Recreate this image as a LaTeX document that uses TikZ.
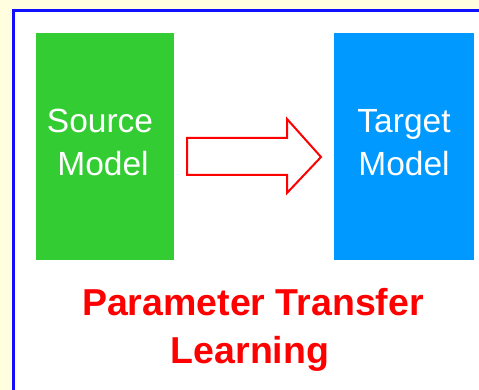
\documentclass[tikz,border=0pt]{standalone}
\usepackage{fontspec}
\setmainfont{Liberation Sans}
\definecolor{bgyellow}{HTML}{FFFFE0}
\definecolor{frameblue}{HTML}{1010FF}
\definecolor{srcgreen}{HTML}{33CC33}
\definecolor{tgtblue}{HTML}{0099FF}
\definecolor{arrowred}{HTML}{FF0000}
\tikzset{
  modelbox/.style={inner sep=0pt, draw=none},
  boxtext/.style={text=white, anchor=base, inner sep=0pt, font=\fontsize{33.5}{40}\selectfont},
  titletext/.style={text=arrowred, anchor=base, inner sep=0pt, font=\fontsize{37.5}{44}\selectfont\bfseries},
}
\begin{document}
\begin{tikzpicture}[x=1pt,y=-1pt]
\useasboundingbox (0,0) rectangle (479,390);
\fill[bgyellow] (0,0) rectangle (479,390);
\draw[frameblue, line width=3pt, fill=white] (13,11) rectangle (495,405);
\node[modelbox, fill=srcgreen, minimum width=138pt, minimum height=227pt] (src) at (105,146.5) {};
\node[modelbox, fill=tgtblue, minimum width=140pt, minimum height=227pt] (tgt) at (404,146.5) {};
\node[boxtext] (src1) at (100,133) {Source};
\node[boxtext] (src2) at (103,176) {Model};
\node[boxtext] (tgt1) at (404,133) {Target};
\node[boxtext] (tgt2) at (404,176) {Model};
\draw[arrowred, line width=2pt, line join=miter] (187,138) -- (287,138) -- (287,119) -- (321,157) -- (287,193) -- (287,175) -- (187,175) -- cycle;
\node[titletext] (t1) at (253,315) {Parameter Transfer};
\node[titletext] (t2) at (250,363) {Learning};
\end{tikzpicture}
\end{document}
